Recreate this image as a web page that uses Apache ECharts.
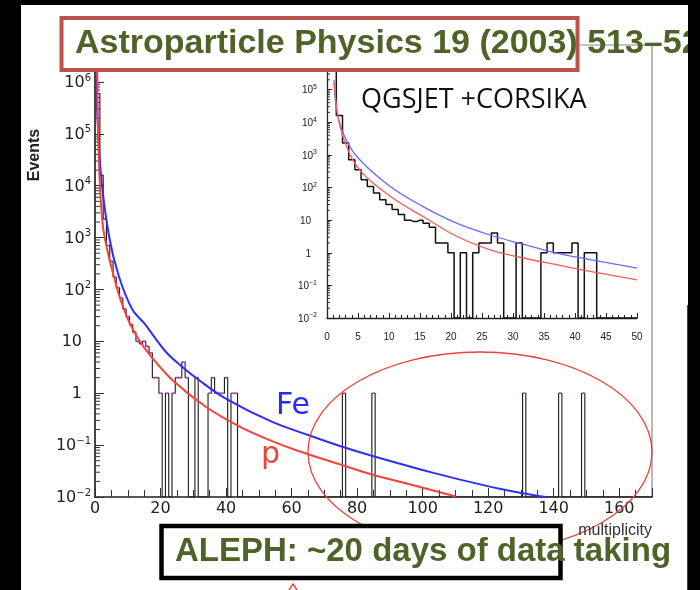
<!DOCTYPE html>
<html>
<head>
<meta charset="utf-8">
<script src="https://cdn.jsdelivr.net/npm/echarts@6/dist/echarts.min.js"></script>
<style>
  html, body { margin: 0; padding: 0; background: #000; }
  #chart { width: 700px; height: 590px; }
</style>
</head>
<body>
<div id="chart"></div>
<script>
// Events per multiplicity bin (bins centred on 0, 1, 2, ... 44)
const lowCounts = [3e6, 6e5, 1.6e4, 2300, 710, 350, 174, 108, 68, 42,
                   30, 21, 15, 10, 9, 10, 8, 6, 2, 2,
                   1, 0, 1, 0, 1, 2, 2, 4, 2, 0,
                   0, 2, 0, 0, 0, 1, 2, 1, 1, 1,
                   2, 0, 1, 1, 0];
// isolated high-multiplicity events
const highBins = [76, 85, 131, 142, 149];
const highCounts = [1, 1, 1, 1, 1];

// expected event rates, main panel: [multiplicity, events]
const feCurve = [[0.2, 1.7e6], [1.7, 2.0e4], [4.3, 1050], [7.3, 178], [11.4, 41], [15, 22.4],
                 [21.6, 6.3], [26.2, 3.4], [31.8, 1.78], [39.9, 0.79], [54.1, 0.28], [65.3, 0.155],
                 [75, 0.095], [84.2, 0.063], [103, 0.0295], [119.8, 0.0162], [130, 0.012], [137.6, 0.010]];
const pCurve = [[0.7, 1.6e6], [2.2, 2200], [6.3, 132], [9.9, 28], [13.4, 10.7], [17, 5.2],
                [23.6, 1.8], [33.8, 0.55], [44, 0.23], [53.1, 0.126], [62.3, 0.076], [75, 0.042],
                [84.2, 0.0275], [96.9, 0.017], [110.1, 0.0102]];

// inset panel (QGSJET + CORSIKA)
const feInset = [[1.1, 2e5], [1.56, 2.5e4], [2.6, 4700], [4.8, 890], [10.2, 107], [15.5, 26],
                 [20.9, 8.1], [26.3, 3.5], [31.7, 1.8], [37, 0.98], [42.4, 0.62], [50, 0.34]];
const pInset = [[1.2, 1.5e5], [2.1, 7400], [4.8, 450], [10.2, 54], [15.5, 12.9], [20.9, 3.2],
                [26.3, 1.23], [31.7, 0.69], [37, 0.43], [42.4, 0.27], [50, 0.148]];

// axis ranges
const mainXMax = 170, insetXMax = 50;
const yFloor = 0.01, mainYMax = 5.16e6, insetYMax = 1e6;

// ---- build histogram point lists ----
function countAt(n) {
  if (n < lowCounts.length) return lowCounts[n];
  const i = highBins.indexOf(n);
  return i >= 0 ? highCounts[i] : 0;
}
function histPoints(last) {
  const pts = [];
  for (let n = 0; n <= last; n++) {
    const c = countAt(n);
    pts.push([n, c > 0 ? c : yFloor]);
  }
  return pts;
}
const mainHist = histPoints(mainXMax);
const insetHist = histPoints(insetXMax);
const binTops = [];
for (let n = 7; n <= mainXMax; n++) {
  const c = countAt(n);
  if (c > 0) binTops.push([n, c]);
}

// log-axis minor ticks (2..9 x 10^k)
function minorTickValues(max) {
  const v = [];
  for (let k = -2; k <= 6; k++) {
    for (let m = 2; m <= 9; m++) {
      const t = m * Math.pow(10, k);
      if (t < max) v.push([0, t]);
    }
  }
  return v;
}
function minorTickSeries(axisIdx, max, len) {
  return {
    type: 'custom', xAxisIndex: axisIdx, yAxisIndex: axisIdx, silent: true, z: 1,
    data: minorTickValues(max),
    renderItem: function (params, api) {
      const p = api.coord([api.value(0), api.value(1)]);
      return { type: 'line', shape: { x1: p[0], y1: p[1], x2: p[0] + len, y2: p[1] },
               style: { stroke: '#333', lineWidth: 1 } };
    }
  };
}

function powLabel(v) {
  const l = Math.log10(v);
  const e = Math.round(l);
  if (Math.abs(l - e) > 1e-6) return '';
  if (e === 0) return '{b|1}{g|}';
  if (e === 1) return '{b|10}{g|}';
  return '{b|10}{s|' + (e < 0 ? '\u2212' + (-e) : e) + '}';
}

function curve(name, axisIdx, data, color, width, z) {
  return {
    name: name, type: 'line', xAxisIndex: axisIdx, yAxisIndex: axisIdx, data: data,
    smooth: 0.35, symbol: 'none', z: z,
    lineStyle: { color: color, width: width }
  };
}

const chart = echarts.init(document.getElementById('chart'), null, { renderer: 'canvas' });

const mainFont = 'DejaVu Sans';
const smallFont = 'Liberation Sans';

chart.setOption({
  backgroundColor: '#ffffff',
  animation: false,
  grid: [
    { left: 95, right: 48, top: 45, bottom: 93, show: true, borderColor: '#8a8a8a', borderWidth: 1.2 },
    { left: 327, right: 63, top: 57, bottom: 272, show: false }
  ],
  xAxis: [
    {
      gridIndex: 0, type: 'value', min: 0, max: mainXMax, interval: 20,
      axisLine: { lineStyle: { color: '#333', width: 1.5 } },
      axisTick: { inside: true, length: 9, lineStyle: { color: '#333' } },
      minorTick: { show: true, splitNumber: 4, length: 7, lineStyle: { color: '#333' } },
      axisLabel: { fontFamily: mainFont, fontSize: 16, color: '#222', margin: 4, showMaxLabel: false },
      splitLine: { show: false }
    },
    {
      gridIndex: 1, type: 'value', min: 0, max: insetXMax, interval: 5,
      axisLine: { lineStyle: { color: '#222', width: 1.3 } },
      axisTick: { inside: true, length: 5, lineStyle: { color: '#222' } },
      minorTick: { show: true, splitNumber: 5, length: 3, lineStyle: { color: '#222' } },
      axisLabel: { fontFamily: smallFont, fontSize: 10, color: '#222', margin: 14 },
      splitLine: { show: false }
    }
  ],
  yAxis: [
    {
      gridIndex: 0, type: 'log', logBase: 10, min: yFloor, max: mainYMax,
      axisLine: { show: true, lineStyle: { color: '#444', width: 2 } },
      axisTick: { inside: true, length: 9, lineStyle: { color: '#333' } },
      axisLabel: {
        margin: 4, formatter: powLabel,
        rich: {
          b: { fontFamily: mainFont, fontSize: 16, color: '#222', verticalAlign: 'bottom', lineHeight: 17 },
          s: { fontFamily: mainFont, fontSize: 10, color: '#222', verticalAlign: 'bottom', padding: [0, 0, 8, 0] },
          g: { width: 9 }
        }
      },
      splitLine: { show: false }
    },
    {
      gridIndex: 1, type: 'log', logBase: 10, min: yFloor, max: insetYMax,
      axisLine: { show: true, lineStyle: { color: '#222', width: 1.3 } },
      axisTick: { inside: true, length: 5, lineStyle: { color: '#222' } },
      axisLabel: {
        margin: 10, formatter: powLabel,
        rich: {
          b: { fontFamily: smallFont, fontSize: 10, color: '#222', verticalAlign: 'bottom', lineHeight: 11 },
          s: { fontFamily: smallFont, fontSize: 7, color: '#222', verticalAlign: 'bottom', padding: [0, 0, 5, 0] },
          g: { width: 6 }
        }
      },
      splitLine: { show: false }
    }
  ],
  series: [
    minorTickSeries(0, mainYMax, 5),
    minorTickSeries(1, insetYMax, 3),
    {
      name: 'data', type: 'line', xAxisIndex: 0, yAxisIndex: 0, step: 'middle',
      data: mainHist, symbol: 'none', z: 3,
      lineStyle: { color: '#1a1a1a', width: 1.1 }
    },
    {
      name: 'bin tops', type: 'scatter', xAxisIndex: 0, yAxisIndex: 0,
      data: binTops, symbol: 'rect', symbolSize: [2.5, 2], z: 4,
      itemStyle: { color: '#e050e0' }
    },
    curve('Fe', 0, feCurve, '#2f2ff5', 2, 5),
    curve('p', 0, pCurve, '#f5433b', 2, 5),
    {
      name: 'data inset', type: 'line', xAxisIndex: 1, yAxisIndex: 1, step: 'middle',
      data: insetHist, symbol: 'none', z: 3,
      lineStyle: { color: '#111', width: 1.5 }
    },
    curve('Fe inset', 1, feInset, '#6a6aff', 1.3, 4),
    curve('p inset', 1, pInset, '#ff5c5c', 1.3, 4)
  ],
  graphic: [
    // highlighted region of high-multiplicity events
    { type: 'ellipse', z: 50, shape: { cx: 480, cy: 452, rx: 172, ry: 100 },
      style: { fill: 'none', stroke: '#e8443a', lineWidth: 1.3 } },
    { type: 'text', z: 60, x: 276, y: 406,
      style: { text: 'Fe', font: '30px "DejaVu Sans"', fill: '#2a2cf2', verticalAlign: 'middle', textVerticalAlign: 'middle' } },
    { type: 'text', z: 60, x: 261, y: 455,
      style: { text: 'p', font: '30px "DejaVu Sans"', fill: '#f0443a', verticalAlign: 'middle', textVerticalAlign: 'middle' } },
    { type: 'text', z: 60, x: 361, y: 100,
      style: { text: 'QGSJET +CORSIKA', font: '27px "Open Sans"', fill: '#111', verticalAlign: 'middle', textVerticalAlign: 'middle' } },
    { type: 'text', z: 60, x: 652, y: 531,
      style: { text: 'multiplicity', font: '16px "Liberation Sans"', fill: '#333', align: 'right', textAlign: 'right', verticalAlign: 'middle', textVerticalAlign: 'middle' } },
    { type: 'text', z: 60, x: 35, y: 155, rotation: Math.PI / 2,
      style: { text: 'Events', font: 'bold 16px "Liberation Sans"', fill: '#222', align: 'center', textAlign: 'center', verticalAlign: 'middle', textVerticalAlign: 'middle' } },
    // citation box
    { type: 'rect', z: 70, shape: { x: 61.5, y: 18, width: 516, height: 52 },
      style: { fill: '#ffffff', stroke: '#c0504d', lineWidth: 4 } },
    { type: 'text', z: 71, x: 75, y: 43.5,
      style: { text: 'Astroparticle Physics 19 (2003) 513\u201352', font: 'bold 34px "Liberation Sans"', fill: '#4f6228', verticalAlign: 'middle', textVerticalAlign: 'middle' } },
    // data-taking box
    { type: 'rect', z: 70, shape: { x: 161.5, y: 526, width: 399, height: 52 },
      style: { fill: '#ffffff', stroke: '#000000', lineWidth: 4.5 } },
    { type: 'text', z: 71, x: 175, y: 551.5,
      style: { text: 'ALEPH: ~20 days of data taking', font: 'bold 33px "Liberation Sans"', fill: '#4f6228', verticalAlign: 'middle', textVerticalAlign: 'middle' } },
    { type: 'polyline', z: 72, shape: { points: [[289, 590], [293, 584], [297, 590]] },
      style: { fill: 'none', stroke: '#e8443a', lineWidth: 1.5 } },
    // dark surround
    { type: 'rect', z: 90, shape: { x: 0, y: 0, width: 21, height: 590 }, style: { fill: '#000' } },
    { type: 'rect', z: 90, shape: { x: 0, y: 0, width: 700, height: 5 }, style: { fill: '#000' } },
    { type: 'rect', z: 90, shape: { x: 688, y: 0, width: 12, height: 590 }, style: { fill: '#000' } },
    { type: 'line', z: 91, shape: { x1: 687.5, y1: 305, x2: 687.5, y2: 590 }, style: { stroke: '#8b2a20', lineWidth: 1 } }
  ]
});
</script>
</body>
</html>
